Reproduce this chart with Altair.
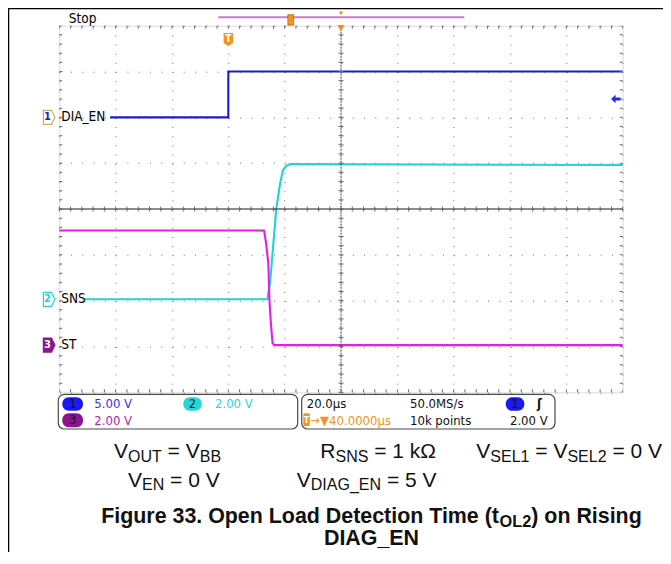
import altair as alt
import pandas as pd

# ---------------- oscilloscope settings / data ----------------
T_DOMAIN = [-60, 140]            # µs (20 µs/div, trigger at t = 0)
DIV_DOMAIN = [-4, 4]             # vertical divisions
GRID_T = [-60, -40, -20, 0, 20, 40, 60, 80, 100, 120, 140]
GRID_DIV = [-4, -3, -2, -1, 0, 1, 2, 3, 4]
MINOR_T = [-60 + 4 * i for i in range(51)]
MINOR_DIV = [round(-4 + 0.2 * i, 2) for i in range(41)]
CENTER_T = 40

CHANNELS = ["DIA_EN", "SNS", "ST"]
CH_NUM = ["1", "2", "3"]
VOLTS_PER_DIV = [5.0, 2.0, 2.0]
GROUND_DIV = [2.0, -1.97, -2.97]
CH_COLORS = ["#1c1cc8", "#1fd4d4", "#e41ee4"]
MARK_FILL = ["#ffffff", "#ffffff", "#8c148c"]
MARK_STROKE = ["#c2b35a", "#1fd4d4", "#8c148c"]
MARK_TEXT = ["#1c1cc8", "#1fd4d4", "#ffffff"]

DIA_T = [-42.0, 0.0, 0.0, 140.0]
DIA_V = [0.0, 0.0, 5.0, 5.0]
SNS_T = [-51.0, 13.9, 14.9, 17.0, 18.4, 19.4, 20.5, 22.0, 140.0]
SNS_V = [0.0, 0.0, 0.83, 3.93, 5.07, 5.63, 5.81, 5.9, 5.86]
ST_T = [-60.0, 12.7, 13.4, 14.2, 14.6, 15.1, 15.7, 16.3, 140.0]
ST_V = [5.0, 5.0, 4.45, 3.58, 1.97, 0.96, 0.09, 0.0, 0.0]
TRIG_LEVEL_V = 2.0

INFO_LEFT = [("5.00 V", "#3434ee"), ("2.00 V", "#2cd4d4"), ("2.00 V", "#b01eb0")]
INFO_RIGHT = ["20.0µs", "50.0MS/s", "→▼40.0000µs", "10k points", "2.00 V"]

COND_LINE_1 = [
    [("V", False), ("OUT", True), (" = V", False), ("BB", True)],
    [("R", False), ("SNS", True), (" = 1 kΩ", False)],
    [("V", False), ("SEL1", True), (" = V", False), ("SEL2", True), (" = 0 V", False)],
]
COND_LINE_2 = [
    [("V", False), ("EN", True), (" = 0 V", False)],
    [("V", False), ("DIAG_EN", True), (" = 5 V", False)],
]
CAPTION_1 = [("Figure 33. Open Load Detection Time (t", False), ("OL2", True), (") on Rising", False)]
CAPTION_2 = [("DIAG_EN", False)]

# ---------------- layout ----------------
SCOPE_FONT = "DejaVu Sans Condensed"
DOC_FONT = "Liberation Sans"
PX0, PY0 = 59.3, 25.7          # page position of plot area
W, H = 563.4, 366.6
SVG_W, SVG_H = 655, 544

ARIAL = {' ': 278, '=': 584, '0': 556, '1': 556, '2': 556, '3': 556, '5': 556, '.': 278,
         '(': 333, ')': 333, '_': 556, 'A': 667, 'B': 667, 'D': 722, 'E': 667, 'G': 778,
         'I': 278, 'L': 556, 'N': 722, 'O': 778, 'R': 722, 'S': 667, 'T': 611, 'U': 722,
         'V': 667, 'k': 500, 'Ω': 768}
ARIAL_BOLD = {' ': 278, '.': 278, '(': 333, ')': 333, '_': 556, '2': 556, '3': 556,
              'A': 722, 'D': 722, 'E': 667, 'F': 611, 'G': 778, 'I': 278, 'L': 611,
              'N': 722, 'O': 778, 'R': 722, 'T': 611, 'a': 556, 'c': 556, 'd': 611,
              'e': 556, 'g': 611, 'i': 278, 'm': 889, 'n': 611, 'o': 611, 'p': 611,
              'r': 389, 's': 556, 't': 333, 'u': 611}


def text_width(s, size, bold):
    table = ARIAL_BOLD if bold else ARIAL
    return sum(table.get(c, 556) for c in s) * size / 1000.0


def compose(segs, x, base, f, g, bold, anchor, shift):
    total = sum(text_width(s, g if sub else f, bold) for s, sub in segs)
    if anchor == "right":
        x -= total
    elif anchor == "center":
        x -= total / 2
    out = []
    for s, sub in segs:
        size = g if sub else f
        lead = len(s) - len(s.lstrip(" "))
        out.append(dict(x=x + text_width(" " * lead, size, bold) - PX0,
                        y=base + (shift if sub else 0) - PY0,
                        text=s.strip(" "), size=size))
        x += text_width(s, size, bold)
    return out


reg_rows = []
reg_rows += compose(COND_LINE_1[0], 114, 458, 21, 16, False, "left", 3.5)
reg_rows += compose(COND_LINE_1[1], 436.5, 458, 21, 16, False, "right", 3.5)
reg_rows += compose(COND_LINE_1[2], 662, 458, 21, 16, False, "right", 3.5)
reg_rows += compose(COND_LINE_2[0], 128, 486.5, 21, 16, False, "left", 3.5)
reg_rows += compose(COND_LINE_2[1], 436.5, 486.5, 21, 16, False, "right", 3.5)
bold_rows = []
bold_rows += compose(CAPTION_1, 371.5, 523, 21.4, 16.3, True, "center", 4)
bold_rows += compose(CAPTION_2, 371.5, 545, 21.4, 16.3, True, "center", 4)
reg_df = pd.DataFrame(reg_rows)
bold_df = pd.DataFrame(bold_rows)

# ---------------- scales / helpers ----------------
XS = alt.Scale(domain=T_DOMAIN, nice=False, zero=False)
YS = alt.Scale(domain=DIV_DOMAIN, nice=False, zero=False)


def xd(v):
    return alt.XDatum(v, type="quantitative", scale=XS, axis=None)


def yd(v):
    return alt.YDatum(v, type="quantitative", scale=YS, axis=None)


def xf(f):
    return alt.X(f, type="quantitative", scale=XS, axis=None)


def yf(f):
    return alt.Y(f, type="quantitative", scale=YS, axis=None)


def xp(f):
    return alt.X(f, type="quantitative", scale=None, axis=None)


def yp(f):
    return alt.Y(f, type="quantitative", scale=None, axis=None)


one = pd.DataFrame({"a": [0]})

# ---------------- traces ----------------
rows = []
for name, ts, vs, vdiv, gnd in zip(CHANNELS, [DIA_T, SNS_T, ST_T], [DIA_V, SNS_V, ST_V],
                                   VOLTS_PER_DIV, GROUND_DIV):
    for i, (t, v) in enumerate(zip(ts, vs)):
        rows.append(dict(ch=name, i=i, t=t, v=v, div=gnd + v / vdiv))
trace_df = pd.DataFrame(rows)

traces = alt.Chart(trace_df).mark_line(strokeWidth=2.1).encode(
    x=alt.X("t:Q", scale=XS, axis=alt.Axis(values=GRID_T, grid=True, gridColor="#707070",
                                           gridDash=[1, H / 40 - 1], gridWidth=1,
                                           labels=False, ticks=False, domain=False, title=None)),
    y=alt.Y("div:Q", scale=YS, axis=alt.Axis(values=GRID_DIV, grid=True, gridColor="#707070",
                                             gridDash=[1, W / 50 - 1], gridWidth=1,
                                             labels=False, ticks=False, domain=False, title=None)),
    color=alt.Color("ch:N", scale=alt.Scale(domain=CHANNELS, range=CH_COLORS), legend=None),
    order=alt.Order("i:Q"),
)

# ---------------- graticule ----------------
center_h = alt.Chart(one).mark_rule(color="#1a1a1a", strokeWidth=1.2).encode(y=yd(0))
center_v = alt.Chart(one).mark_rule(color="#444444", strokeWidth=1, strokeDash=[2, 1]).encode(
    x=xd(CENTER_T))

mt = pd.DataFrame({"t": MINOR_T})
md = pd.DataFrame({"d": MINOR_DIV})
tk = dict(color="#6a6a6a", thickness=1, opacity=1)
ticks = [
    alt.Chart(mt).mark_tick(orient="vertical", size=6, clip=True, **tk).encode(x=xf("t"), y=yd(4)),
    alt.Chart(mt).mark_tick(orient="vertical", size=6, clip=True, **tk).encode(x=xf("t"), y=yd(-4)),
    alt.Chart(mt).mark_tick(orient="vertical", size=5, **tk).encode(x=xf("t"), y=yd(0)),
    alt.Chart(md).mark_tick(orient="horizontal", size=6, clip=True, **tk).encode(x=xd(-60), y=yf("d")),
    alt.Chart(md).mark_tick(orient="horizontal", size=6, clip=True, **tk).encode(x=xd(140), y=yf("d")),
    alt.Chart(md).mark_tick(orient="horizontal", size=5, **tk).encode(x=xd(CENTER_T), y=yf("d")),
]

# ---------------- channel labels & markers ----------------
lab_df = pd.DataFrame({"ch": CHANNELS, "num": CH_NUM, "gnd": GROUND_DIV,
                       "fill": MARK_FILL, "stroke": MARK_STROKE, "tc": MARK_TEXT})
labels = alt.Chart(lab_df).mark_text(align="left", baseline="middle", dx=2, font=SCOPE_FONT,
                                     fontSize=13.5, color="black").encode(
    x=xd(-60), y=yf("gnd"), text="ch:N")
CH_MARK_PATH = "M-0.8,-1 L0.35,-1 L0.85,0 L0.35,1 L-0.8,1 Z"
markers = alt.Chart(lab_df).mark_point(shape=CH_MARK_PATH, size=196, filled=True,
                                       strokeWidth=1.2, opacity=1).encode(
    x=alt.value(-10.3), y=yf("gnd"),
    fill=alt.Fill("fill:N", scale=None), stroke=alt.Stroke("stroke:N", scale=None))
marker_nums = alt.Chart(lab_df).mark_text(baseline="middle", align="center", font=SCOPE_FONT,
                                          fontSize=11, fontWeight="bold").encode(
    x=alt.value(-11.8), y=yf("gnd"), text="num:N", fill=alt.Fill("tc:N", scale=None))

trig_df = pd.DataFrame({"lvl": [GROUND_DIV[0] + TRIG_LEVEL_V / VOLTS_PER_DIV[0]]})
ARROW_PATH = "M-1,0 L-0.05,-0.9 L-0.05,-0.3 L1,-0.3 L1,0.3 L-0.05,0.3 L-0.05,0.9 Z"
trig_arrow = alt.Chart(trig_df).mark_point(shape=ARROW_PATH, size=90, filled=True,
                                           color="#2a2ae0", opacity=1).encode(
    x=alt.value(556.5), y=yf("lvl"))

ORANGE = "#f5931e"
T_PATH = "M-0.73,-1 L0.73,-1 L0.73,0.55 L0,1 L-0.73,0.55 Z"
t_marker = alt.Chart(one).mark_point(shape=T_PATH, size=169, filled=True, color=ORANGE,
                                     opacity=1).encode(x=xd(0), y=alt.value(13.8))
t_letter = alt.Chart(one).mark_text(text="T", color="white", fontWeight="bold", fontSize=10,
                                    font=SCOPE_FONT, baseline="middle", dy=-1).encode(
    x=xd(0), y=alt.value(13.8))
center_tri = alt.Chart(one).mark_point(shape="triangle-down", size=50, filled=True,
                                       color=ORANGE, opacity=1).encode(
    x=xd(CENTER_T), y=alt.value(2.5))

# record overview bar above the graticule
rec_bar = alt.Chart(one).mark_rule(color="#c67ec6", strokeWidth=2).encode(
    x=alt.value(159), x2=alt.value(405), y=alt.value(-8.4))
REC_T_PATH = "M-0.55,-1 L0.55,-1 L0.55,1 L-0.55,1 Z"
rec_t = alt.Chart(one).mark_point(shape=REC_T_PATH, size=110, filled=True, color=ORANGE,
                                  opacity=1, stroke="#8a5a10", strokeWidth=0.6).encode(
    x=alt.value(231.4), y=alt.value(-5.8))
rec_tri = alt.Chart(one).mark_point(shape="triangle-down", size=20, filled=True, color=ORANGE,
                                    opacity=1).encode(x=xd(CENTER_T), y=alt.value(-12.3))
stop = alt.Chart(one).mark_text(text="Stop", align="left", baseline="alphabetic",
                                font=SCOPE_FONT, fontSize=13.5, color="black").encode(
    x=alt.value(9.5), y=alt.value(-3))

# outer frame
frame_top = alt.Chart(one).mark_rule(color="black", strokeWidth=1.5).encode(
    x=alt.value(-51.3), x2=alt.value(SVG_W - 51.3), y=alt.value(-17.2))
frame_left = alt.Chart(one).mark_rule(color="black", strokeWidth=1.5).encode(
    x=alt.value(-50.8), y=alt.value(-17.7), y2=alt.value(SVG_H))

# ---------------- info boxes ----------------
box_df = pd.DataFrame({"x": [-1.0, 242.4], "x2": [238.4, 495.7],
                       "y": [368.6, 368.6], "y2": [403.3, 403.3]})
boxes = alt.Chart(box_df).mark_rect(cornerRadius=6, fill="white", stroke="#4a4a4a",
                                    strokeWidth=1.2).encode(
    x=xp("x"), x2="x2", y=yp("y"), y2="y2")

pill_df = pd.DataFrame({
    "x": [3.0, 124.0, 3.0, 446.4], "x2": [23.7, 142.4, 23.7, 465.0],
    "y": [371.6, 371.6, 387.6, 371.6], "y2": [385.0, 385.0, 401.6, 385.0],
    "c": ["#1a1af0", "#22d8d8", "#8c148c", "#1a1af0"],
    "n": ["1", "2", "3", "1"]})
pills = alt.Chart(pill_df).mark_rect(cornerRadius=6.5).encode(
    x=xp("x"), x2="x2", y=yp("y"), y2="y2", fill=alt.Fill("c:N", scale=None))
pill_nums = alt.Chart(pill_df).transform_calculate(
    cx="(datum.x + datum.x2) / 2", cy="(datum.y + datum.y2) / 2").mark_text(
    align="center", baseline="middle", font=SCOPE_FONT, fontSize=12, color="#111111").encode(
    x=xp("cx:Q"), y=yp("cy:Q"), text="n:N")

tbox_df = pd.DataFrame({"x": [244.0], "x2": [250.5], "y": [387.6], "y2": [400.3]})
tbox = alt.Chart(tbox_df).mark_rect(cornerRadius=1.5, color=ORANGE).encode(
    x=xp("x"), x2="x2", y=yp("y"), y2="y2")
tbox_t = alt.Chart(tbox_df).mark_text(text="T", color="white", fontWeight="bold", fontSize=9,
                                      font=SCOPE_FONT, baseline="middle").encode(
    x=alt.value(247.3), y=alt.value(394.2))

info_rows = [
    dict(x=35.0, y=382.6, text=INFO_LEFT[0][0], c=INFO_LEFT[0][1]),
    dict(x=155.7, y=382.6, text=INFO_LEFT[1][0], c=INFO_LEFT[1][1]),
    dict(x=35.0, y=399.3, text=INFO_LEFT[2][0], c=INFO_LEFT[2][1]),
    dict(x=247.4, y=382.6, text=INFO_RIGHT[0], c="#111111"),
    dict(x=350.7, y=382.6, text=INFO_RIGHT[1], c="#111111"),
    dict(x=251.0, y=399.3, text=INFO_RIGHT[2], c=ORANGE),
    dict(x=350.7, y=399.3, text=INFO_RIGHT[3], c="#111111"),
]
info_df = pd.DataFrame(info_rows)
info_text = alt.Chart(info_df).mark_text(align="left", baseline="alphabetic", font=SCOPE_FONT,
                                         fontSize=13).encode(
    x=xp("x"), y=yp("y"), text="text:N", fill=alt.Fill("c:N", scale=None))
info_right = alt.Chart(one).mark_text(text=INFO_RIGHT[4], align="right", baseline="alphabetic",
                                      font=SCOPE_FONT, fontSize=13, color="#111111").encode(
    x=alt.value(488.4), y=alt.value(399.3))
edge = alt.Chart(one).mark_text(text="ʃ", align="center", baseline="alphabetic",
                                font=SCOPE_FONT, fontSize=13, fontWeight="bold",
                                color="#111111").encode(x=alt.value(480.2), y=alt.value(382.6))

# ---------------- document text ----------------
reg_text = alt.Chart(reg_df).mark_text(align="left", baseline="alphabetic", font=DOC_FONT,
                                       color="#111111").encode(
    x=xp("x"), y=yp("y"), text="text:N", size=alt.Size("size:Q", scale=None))
bold_text = alt.Chart(bold_df).mark_text(align="left", baseline="alphabetic", font=DOC_FONT,
                                         fontWeight="bold", color="#111111").encode(
    x=xp("x"), y=yp("y"), text="text:N", size=alt.Size("size:Q", scale=None))

layers = [traces, center_v, center_h] + ticks + [
    labels, markers, marker_nums, trig_arrow, t_marker, t_letter, center_tri,
    rec_bar, rec_t, rec_tri, stop, frame_top, frame_left,
    boxes, pills, pill_nums, tbox, tbox_t, info_text, info_right, edge,
    reg_text, bold_text]

chart = alt.layer(*layers).resolve_scale(
    x="independent", y="independent", color="independent", size="independent",
    fill="independent", stroke="independent"
).properties(
    width=W, height=H,
    padding={"left": 51.3, "top": 17.7, "right": SVG_W - 51.3 - W, "bottom": SVG_H - 17.7 - H},
    autosize=alt.AutoSizeParams(type="none"),
).configure_view(stroke="#6b6b6b", strokeWidth=1.5).configure(background="white")

chart.save("out.html", embed_options={"renderer": "svg", "actions": False})
